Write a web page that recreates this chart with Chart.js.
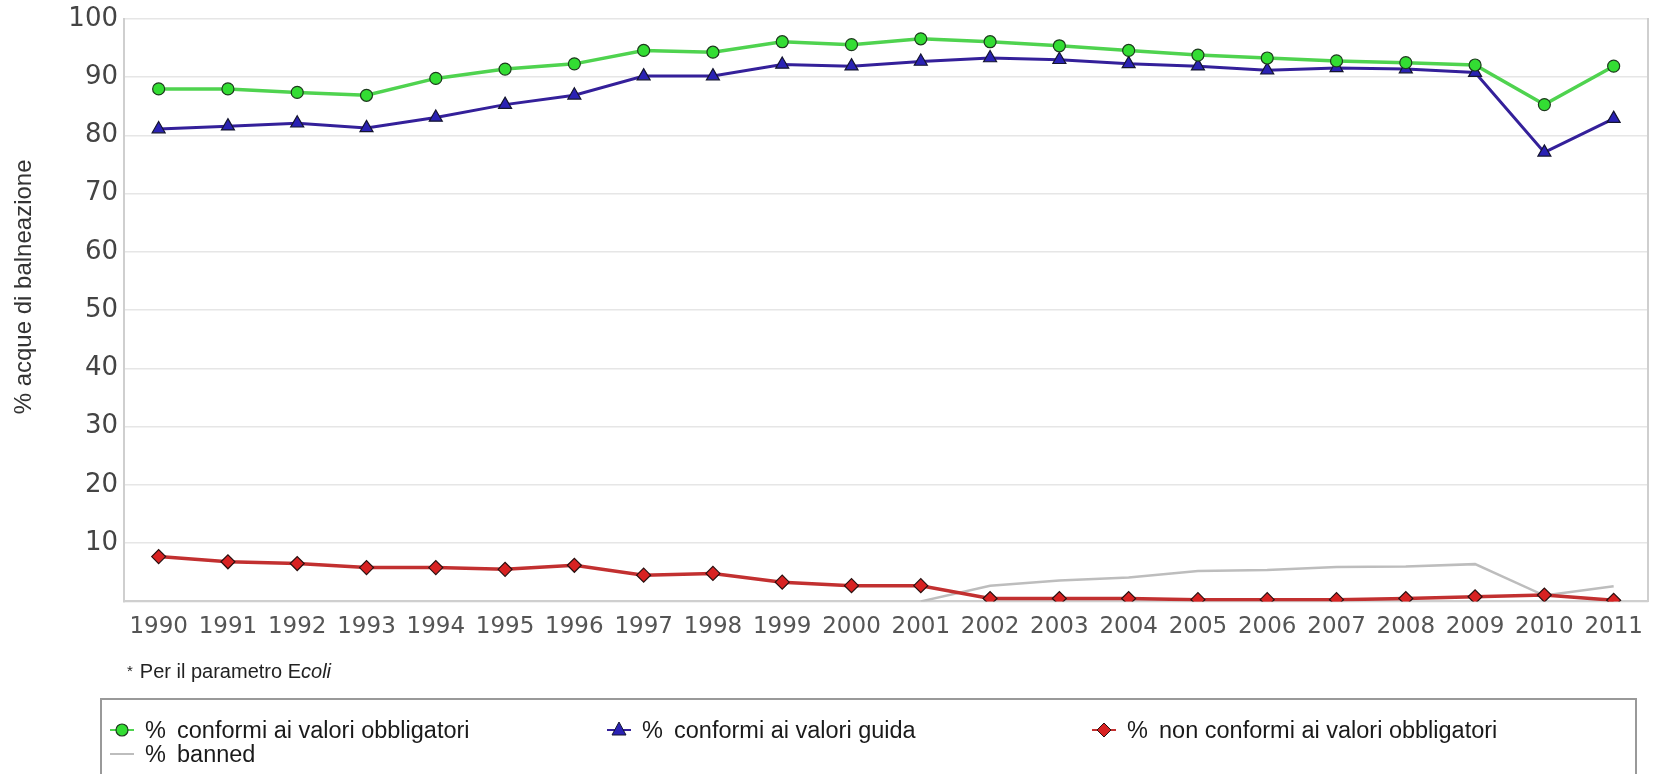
<!DOCTYPE html>
<html>
<head>
<meta charset="utf-8">
<script src="https://cdn.jsdelivr.net/npm/chart.js@4.4.1/dist/chart.umd.min.js"></script>
<style>
  body { margin: 0; background: #fff; }
  #wrap { position: relative; width: 1657px; height: 774px; overflow: hidden; }
  #chart { position: absolute; left: 0; top: 0; }
  #note { position: absolute; left: 127px; top: 660px; font: 20px "Liberation Sans", Arial, sans-serif; color: #222; }
  #note .star { font-size: 15px; margin-right: 7px; vertical-align: 2px; }
  #legend { position: absolute; left: 100px; top: 698px; width: 1537px; height: 100px;
            border: 2px solid #999; box-sizing: border-box; font: 23.5px "Liberation Sans", Arial, sans-serif; color: #1a1a1a; }
  .item { position: absolute; display: flex; align-items: center; height: 24px; white-space: nowrap; }
  .item .pct { margin-left: 9px; width: 32px; }
</style>
</head>
<body>
<div id="wrap">
  <canvas id="chart" width="1657" height="774"></canvas>
  <div id="note"><span class="star">*</span>Per il parametro E<i>coli</i></div>
  <div id="legend"></div>
</div>
<script>
// years on the x axis
const years = ["1990", "1991", "1992", "1993", "1994", "1995", "1996", "1997", "1998", "1999", "2000",
               "2001", "2002", "2003", "2004", "2005", "2006", "2007", "2008", "2009", "2010", "2011"];

// series values (% of bathing waters)
const conformiObbligatori = [88.0, 88.0, 87.4, 86.9, 89.8, 91.4, 92.3, 94.6, 94.3, 96.1, 95.6,
                             96.6, 96.1, 95.4, 94.6, 93.8, 93.3, 92.8, 92.5, 92.1, 85.3, 91.9];
const conformiGuida = [81.1, 81.6, 82.1, 81.3, 83.1, 85.3, 86.9, 90.2, 90.2, 92.2, 91.9,
                       92.7, 93.3, 93.0, 92.3, 91.9, 91.2, 91.6, 91.4, 90.8, 77.1, 82.9];
const nonConformi = [7.7, 6.8, 6.5, 5.8, 5.8, 5.5, 6.2, 4.5, 4.8, 3.3, 2.7,
                     2.7, 0.5, 0.5, 0.5, 0.3, 0.3, 0.3, 0.5, 0.8, 1.1, 0.2];
const banned = [null, null, null, null, null, null, null, null, null, null, null,
                0, 2.7, 3.6, 4.1, 5.2, 5.4, 5.9, 6.0, 6.4, 1.0, 2.6];

// y axis ticks
const yTicks = [10, 20, 30, 40, 50, 60, 70, 80, 90, 100];

const yTitle = "% acque di balneazione";

const gridColor = "#e6e6e6";
const axisColor = "#cfcfcf";

const datasets = [
    {
        label: "conformi ai valori obbligatori",
        data: conformiObbligatori,
        borderColor: "#4fd34f",
        borderWidth: 3.5,
        pointStyle: "circle",
        pointRadius: 6,
        pointBackgroundColor: "#33dd33",
        pointBorderColor: "#1d3a1d",
        pointBorderWidth: 1.2
    },
    {
        label: "conformi ai valori guida",
        data: conformiGuida,
        borderColor: "#34209a",
        borderWidth: 3,
        pointStyle: "triangle",
        pointRadius: 7.5,
        pointBackgroundColor: "#2a22b4",
        pointBorderColor: "#151530",
        pointBorderWidth: 1.2
    },
    {
        label: "non conformi ai valori obbligatori",
        data: nonConformi,
        borderColor: "#c23030",
        borderWidth: 3.5,
        pointStyle: "rectRot",
        pointRadius: 7,
        pointBackgroundColor: "#d82222",
        pointBorderColor: "#2a1010",
        pointBorderWidth: 1.2
    },
    {
        label: "banned",
        data: banned,
        borderColor: "#bdbdbd",
        borderWidth: 2.5,
        pointRadius: 0,
        spanGaps: false
    }
];

// ✅ y axis title, drawn a little above the middle of the axis like the original
const yTitlePlugin = {
    id: "yTitle",
    afterDraw(chart) {
        const c = chart.ctx;
        const y = chart.scales.y.getPixelForValue(54);
        c.save();
        c.translate(24, y);
        c.rotate(-Math.PI / 2);
        c.font = '24px "Liberation Sans"';
        c.fillStyle = "#333";
        c.textAlign = "center";
        c.textBaseline = "middle";
        c.fillText(yTitle, 0, 0);
        c.restore();
    }
};

const ctx = document.getElementById("chart").getContext("2d");
const chart = new Chart(ctx, {
    type: "line",
    data: { labels: years, datasets: datasets },
    plugins: [yTitlePlugin],
    options: {
        responsive: false,
        animation: false,
        layout: { padding: { top: 0, left: 9, right: 0, bottom: 121 } },
        plugins: {
            legend: { display: false },
            tooltip: { enabled: false }
        },
        elements: { line: { tension: 0 } },
        scales: {
            x: {
                offset: true,
                grid: { display: false, drawTicks: false },
                border: { color: axisColor, width: 2 },
                ticks: {
                    color: "#555",
                    font: { family: "DejaVu Sans", size: 23 },
                    padding: 12,
                    maxRotation: 0,
                    autoSkip: false
                }
            },
            y: {
                min: 0,
                max: 100,
                afterFit: function (scale) { scale.width = 115; },
                afterBuildTicks: function (scale) {
                    scale.ticks = [0].concat(yTicks).map(v => ({ value: v }));
                },
                grid: { color: gridColor, lineWidth: 1.5, drawTicks: false },
                border: { color: axisColor, width: 2 },
                ticks: {
                    color: "#444",
                    font: { family: "DejaVu Sans", size: 26, lineHeight: 1 },
                    padding: 6,
                    callback: v => (v === 0 ? "" : v)
                }
            },
            yRight: {
                position: "right",
                min: 0,
                max: 100,
                grid: { drawOnChartArea: false, drawTicks: false },
                border: { color: axisColor, width: 2 },
                ticks: { display: false }
            }
        }
    }
});

// ✅ build the legend box from the datasets
function markerSvg(ds) {
    const c = ds.borderColor;
    let shape = "";
    if (ds.pointStyle === "circle") {
        shape = `<circle cx="14" cy="12" r="6" fill="${ds.pointBackgroundColor}" stroke="${ds.pointBorderColor}" stroke-width="1.2"/>`;
    } else if (ds.pointStyle === "triangle") {
        shape = `<polygon points="14,4 21,17 7,17" fill="${ds.pointBackgroundColor}" stroke="${ds.pointBorderColor}" stroke-width="1"/>`;
    } else if (ds.pointStyle === "rectRot") {
        shape = `<polygon points="14,5 21,12 14,19 7,12" fill="${ds.pointBackgroundColor}" stroke="${ds.pointBorderColor}" stroke-width="1"/>`;
    }
    return `<svg width="28" height="24"><line x1="2" y1="12" x2="26" y2="12" stroke="${c}" stroke-width="2"/>${shape}</svg>`;
}

const legendPos = [
    { left: 6, top: 18 },
    { left: 503, top: 18 },
    { left: 988, top: 18 },
    { left: 6, top: 42 }
];
const legendEl = document.getElementById("legend");
datasets.forEach(function (ds, i) {
    const item = document.createElement("div");
    item.className = "item";
    item.style.left = legendPos[i].left + "px";
    item.style.top = legendPos[i].top + "px";
    item.innerHTML = markerSvg(ds) + `<span class="pct">%</span><span>${ds.label}</span>`;
    legendEl.appendChild(item);
});
</script>
</body>
</html>
